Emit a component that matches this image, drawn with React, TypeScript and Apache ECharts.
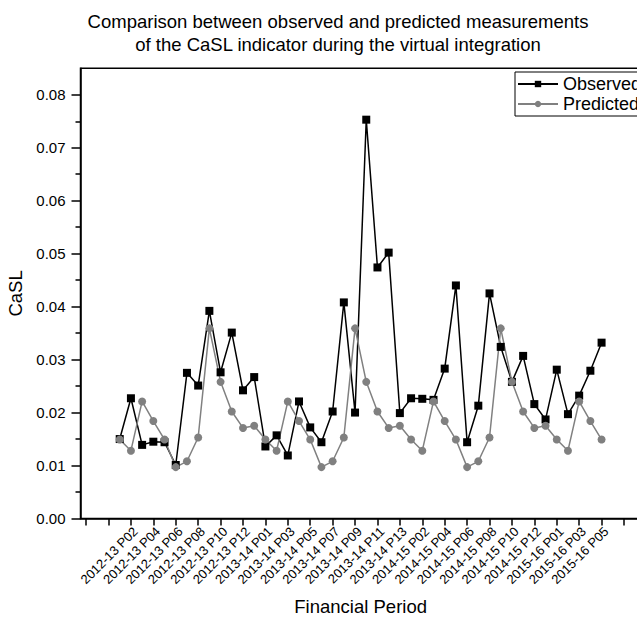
import React, { useEffect, useRef } from 'react';
import * as echarts from 'echarts';

const FONT = "'Liberation Sans', Arial, sans-serif";

const periods = [
  '2012-13 P01', '2012-13 P02', '2012-13 P03', '2012-13 P04', '2012-13 P05', '2012-13 P06', '2012-13 P07',
  '2012-13 P08', '2012-13 P09', '2012-13 P10', '2012-13 P11', '2012-13 P12', '2012-13 P13',
  '2013-14 P01', '2013-14 P02', '2013-14 P03', '2013-14 P04', '2013-14 P05', '2013-14 P06', '2013-14 P07',
  '2013-14 P08', '2013-14 P09', '2013-14 P10', '2013-14 P11', '2013-14 P12', '2013-14 P13',
  '2014-15 P01', '2014-15 P02', '2014-15 P03', '2014-15 P04', '2014-15 P05', '2014-15 P06', '2014-15 P07',
  '2014-15 P08', '2014-15 P09', '2014-15 P10', '2014-15 P11', '2014-15 P12', '2014-15 P13',
  '2015-16 P01', '2015-16 P02', '2015-16 P03', '2015-16 P04', '2015-16 P05',
];

const observed = [
  0.0150, 0.0227, 0.0139, 0.0145, 0.0144, 0.0101, 0.0275, 0.0251, 0.0392, 0.0276,
  0.0351, 0.0242, 0.0267, 0.0136, 0.0157, 0.0119, 0.0221, 0.0172, 0.0144, 0.0202,
  0.0408, 0.0200, 0.0753, 0.0474, 0.0502, 0.0199, 0.0227, 0.0226, 0.0224, 0.0283,
  0.0440, 0.0144, 0.0213, 0.0425, 0.0324, 0.0258, 0.0307, 0.0216, 0.0187, 0.0281,
  0.0197, 0.0232, 0.0279, 0.0332,
];

const predicted = [
  0.0149, 0.0128, 0.0221, 0.0184, 0.0149, 0.0097, 0.0108, 0.0153, 0.0359, 0.0258,
  0.0202, 0.0171, 0.0175, 0.0149, 0.0128, 0.0221, 0.0184, 0.0149, 0.0097, 0.0108,
  0.0153, 0.0359, 0.0258, 0.0202, 0.0171, 0.0175, 0.0149, 0.0128, 0.0221, 0.0184,
  0.0149, 0.0097, 0.0108, 0.0153, 0.0359, 0.0258, 0.0202, 0.0171, 0.0175, 0.0149,
  0.0128, 0.0221, 0.0184, 0.0149,
];

const yTickValues = [0, 0.01, 0.02, 0.03, 0.04, 0.05, 0.06, 0.07, 0.08];
const yMinorValues = [0.005, 0.015, 0.025, 0.035, 0.045, 0.055, 0.065, 0.075];
const xTickValues = [-2, 0, 2, 4, 6, 8, 10, 12, 14, 16, 18, 20, 22, 24, 26, 28, 30, 32, 34, 36, 38, 40, 42, 44, 46];
const xLabelValues = [2, 4, 6, 8, 10, 12, 14, 16, 18, 20, 22, 24, 26, 28, 30, 32, 34, 36, 38, 40, 42, 44];

const TITLE = 'Comparison between observed and predicted measurements\nof the CaSL indicator during the virtual integration';

export default function App() {
  const ref = useRef<HTMLDivElement>(null);

  useEffect(() => {
    if (!ref.current) return;
    const chart = echarts.init(ref.current, undefined, { renderer: 'svg' });
    const black = '#000000';
    const gray = '#808080';
    chart.setOption({
      animation: false,
      textStyle: { fontFamily: FONT },
      title: {
        text: TITLE,
        left: 333,
        top: 4.5,
        textAlign: 'center',
        textStyle: { fontSize: 18.5, fontWeight: 'normal', color: black, lineHeight: 23, fontFamily: FONT },
      },
      legend: {
        orient: 'vertical',
        left: 515,
        top: 72,
        borderColor: black,
        borderWidth: 1,
        padding: [2, 6, 2, 2],
        itemWidth: 40,
        itemHeight: 8,
        itemGap: 0,
        textStyle: { fontSize: 18, color: black, lineHeight: 20, fontFamily: FONT },
        data: ['Observed', 'Predicted'],
      },
      grid: {
        left: 80.5,
        top: 68.3,
        right: 660 - 640.8,
        bottom: 620 - 518.5,
        show: true,
        borderColor: black,
        borderWidth: 1.5,
        backgroundColor: 'transparent',
        outerBoundsMode: 'none',
      },
      xAxis: {
        type: 'value',
        min: -2.5,
        max: 47.5,
        axisLine: { show: true, onZero: false, lineStyle: { color: black, width: 1.5 } },
        axisTick: { show: true, customValues: xTickValues, length: 7, lineStyle: { color: black, width: 1.5 } },
        axisLabel: {
          customValues: xLabelValues,
          rotate: 45,
          fontSize: 13,
          color: black,
          margin: 6,
          verticalAlign: 'top',
          lineHeight: 13,
          showMinLabel: true,
          showMaxLabel: true,
          hideOverlap: false,
          fontFamily: FONT,
          formatter: (v: number) => periods[Math.round(v) - 1] ?? '',
        },
        splitLine: { show: false },
        name: 'Financial Period',
        nameLocation: 'middle',
        nameGap: 78,
        nameTextStyle: { fontSize: 18.5, color: black, fontFamily: FONT },
      },
      yAxis: [
        {
          type: 'value',
          min: 0,
          max: 0.085,
          interval: 0.01,
          axisLine: { show: true, onZero: false, lineStyle: { color: black, width: 1.5 } },
          axisTick: { show: true, customValues: yTickValues, length: 9, lineStyle: { color: black, width: 1.5 } },
          axisLabel: {
            customValues: yTickValues,
            fontSize: 15,
            color: black,
            margin: 15,
            fontFamily: FONT,
            formatter: (v: number) => v.toFixed(2),
          },
          splitLine: { show: false },
          name: 'CaSL',
          nameLocation: 'middle',
          nameGap: 49,
          nameTextStyle: { fontSize: 18.5, color: black, fontFamily: FONT },
        },
        {
          type: 'value',
          position: 'left',
          offset: 0,
          min: 0,
          max: 0.085,
          interval: 0.01,
          axisLine: { show: false, onZero: false },
          axisTick: { show: true, customValues: yMinorValues, length: 5, lineStyle: { color: black, width: 1.5 } },
          axisLabel: { show: false },
          splitLine: { show: false },
        },
      ],
      series: [
        {
          name: 'Observed',
          type: 'line',
          yAxisIndex: 0,
          data: observed.map((v, i) => [i + 1, v]),
          symbol: 'rect',
          symbolSize: 8,
          itemStyle: { color: black },
          lineStyle: { color: black, width: 1.5 },
        },
        {
          name: 'Predicted',
          type: 'line',
          yAxisIndex: 0,
          data: predicted.map((v, i) => [i + 1, v]),
          symbol: 'circle',
          symbolSize: 8,
          itemStyle: { color: gray },
          lineStyle: { color: gray, width: 1.5 },
        },
      ],
    });
    return () => chart.dispose();
  }, []);

  return (
    <div style={{ position: 'fixed', left: 0, top: 0, width: 637, height: 620, overflow: 'hidden', background: '#fff' }}>
      <div ref={ref} style={{ width: 660, height: 620 }} />
    </div>
  );
}
